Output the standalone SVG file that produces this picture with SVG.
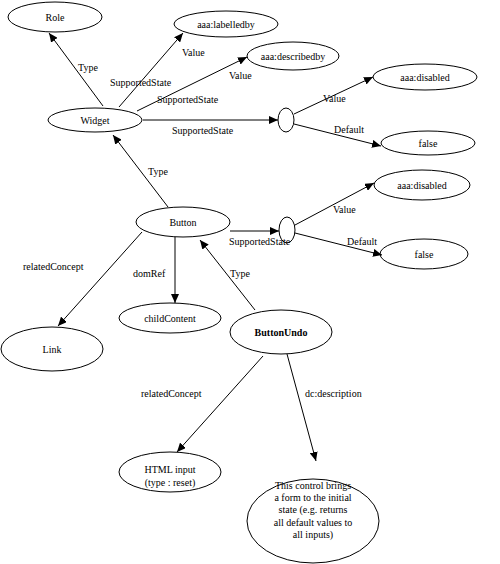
<svg xmlns="http://www.w3.org/2000/svg" width="500" height="564" viewBox="0 0 500 564">
<style>
.n{fill:none;stroke:#000;stroke-width:1}
.t{font-family:"Liberation Serif","Times New Roman",serif;font-size:10px;fill:#000}
.c{text-anchor:middle}
.e{stroke:#000;stroke-width:1;fill:none;marker-end:url(#a)}
</style>
<defs>
<marker id="a" markerUnits="userSpaceOnUse" markerWidth="10" markerHeight="8" refX="9" refY="4" orient="auto">
<path d="M0,0 L9,4 L0,8 Z" fill="#000"/>
</marker>
</defs>
<rect width="500" height="564" fill="#fff"/>
<g id="connectors">
<line class="e" x1="103" y1="106" x2="49" y2="33"/>
<line class="e" x1="119" y1="107" x2="183" y2="33"/>
<line class="e" x1="137" y1="111" x2="247" y2="57"/>
<line class="e" x1="143" y1="120" x2="278" y2="120"/>
<line class="e" x1="294" y1="114" x2="373" y2="77"/>
<line class="e" x1="294" y1="124" x2="381" y2="146"/>
<line class="e" x1="168" y1="207" x2="113" y2="135"/>
<line class="e" x1="175" y1="237" x2="175" y2="303"/>
<line class="e" x1="142" y1="232" x2="58" y2="326"/>
<line class="e" x1="230" y1="231" x2="279" y2="231"/>
<line class="e" x1="295" y1="225" x2="374" y2="183"/>
<line class="e" x1="295" y1="233" x2="382" y2="255"/>
<line class="e" x1="255" y1="310" x2="200" y2="240"/>
<line class="e" x1="263" y1="356" x2="177" y2="452"/>
<line class="e" x1="287" y1="354" x2="316" y2="461"/>
<text class="t" x="78" y="71">Type</text>
<text class="t" x="182" y="56">Value</text>
<text class="t" x="110" y="86">SupportedState</text>
<text class="t" x="229" y="79">Value</text>
<text class="t" x="157" y="103">SupportedState</text>
<text class="t" x="172" y="134">SupportedState</text>
<text class="t" x="323" y="102">Value</text>
<text class="t" x="334" y="133">Default</text>
<text class="t" x="148" y="175">Type</text>
<text class="t" x="23" y="270">relatedConcept</text>
<text class="t" x="133" y="277">domRef</text>
<text class="t" x="229" y="245">SupportedState</text>
<text class="t" x="333" y="213">Value</text>
<text class="t" x="347" y="245">Default</text>
<text class="t" x="230" y="277">Type</text>
<text class="t" x="141" y="397">relatedConcept</text>
<text class="t" x="305" y="397">dc:description</text>
</g>
<g id="role"><ellipse class="n" cx="55" cy="17" rx="47" ry="15"/><text class="t c" x="55" y="20.5">Role</text></g>
<g id="labelledby"><ellipse class="n" cx="226" cy="24" rx="52" ry="13"/><text class="t c" x="226" y="27.5">aaa:labelledby</text></g>
<g id="describedby"><ellipse class="n" cx="293" cy="56" rx="46" ry="14"/><text class="t c" x="293" y="59.5">aaa:describedby</text></g>
<g id="disabled1"><ellipse class="n" cx="425" cy="77" rx="52" ry="13"/><text class="t c" x="425" y="80.5">aaa:disabled</text></g>
<g id="blank1"><ellipse class="n" cx="286" cy="120" rx="8" ry="12"/></g>
<g id="false1"><ellipse class="n" cx="428" cy="143" rx="47" ry="12"/><text class="t c" x="428" y="146.5">false</text></g>
<g id="widget"><ellipse class="n" cx="95" cy="120" rx="47" ry="12"/><text class="t c" x="95" y="123.5">Widget</text></g>
<g id="button"><ellipse class="n" cx="183" cy="222" rx="47" ry="15"/><text class="t c" x="183" y="225.5">Button</text></g>
<g id="childContent"><ellipse class="n" cx="170" cy="318" rx="51" ry="15"/><text class="t c" x="170" y="321.5">childContent</text></g>
<g id="link"><ellipse class="n" cx="52" cy="349" rx="51" ry="22"/><text class="t c" x="52" y="352.5">Link</text></g>
<g id="blank2"><ellipse class="n" cx="287" cy="230" rx="8" ry="13"/></g>
<g id="disabled2"><ellipse class="n" cx="422" cy="185" rx="48" ry="15"/><text class="t c" x="422" y="188.5">aaa:disabled</text></g>
<g id="false2"><ellipse class="n" cx="424" cy="254" rx="44" ry="15"/><text class="t c" x="424" y="257.5">false</text></g>
<g id="buttonUndo"><ellipse class="n" cx="281" cy="332" rx="51" ry="22"/><text class="t c" x="281" y="335.5" font-weight="bold">ButtonUndo</text></g>
<g id="htmlInput"><ellipse class="n" cx="170" cy="472" rx="51" ry="20"/><text class="t c" x="170" y="472.5">HTML input</text><text class="t c" x="170" y="485.5">(type : reset)</text></g>
<g id="description"><ellipse class="n" cx="313" cy="521" rx="66" ry="42"/>
<text class="t c" x="313" y="489">This control brings</text>
<text class="t c" x="313" y="501">a form to the initial</text>
<text class="t c" x="313" y="513">state (e.g. returns</text>
<text class="t c" x="313" y="525.5">all default values to</text>
<text class="t c" x="313" y="537.5">all inputs)</text>
</g>
</svg>
